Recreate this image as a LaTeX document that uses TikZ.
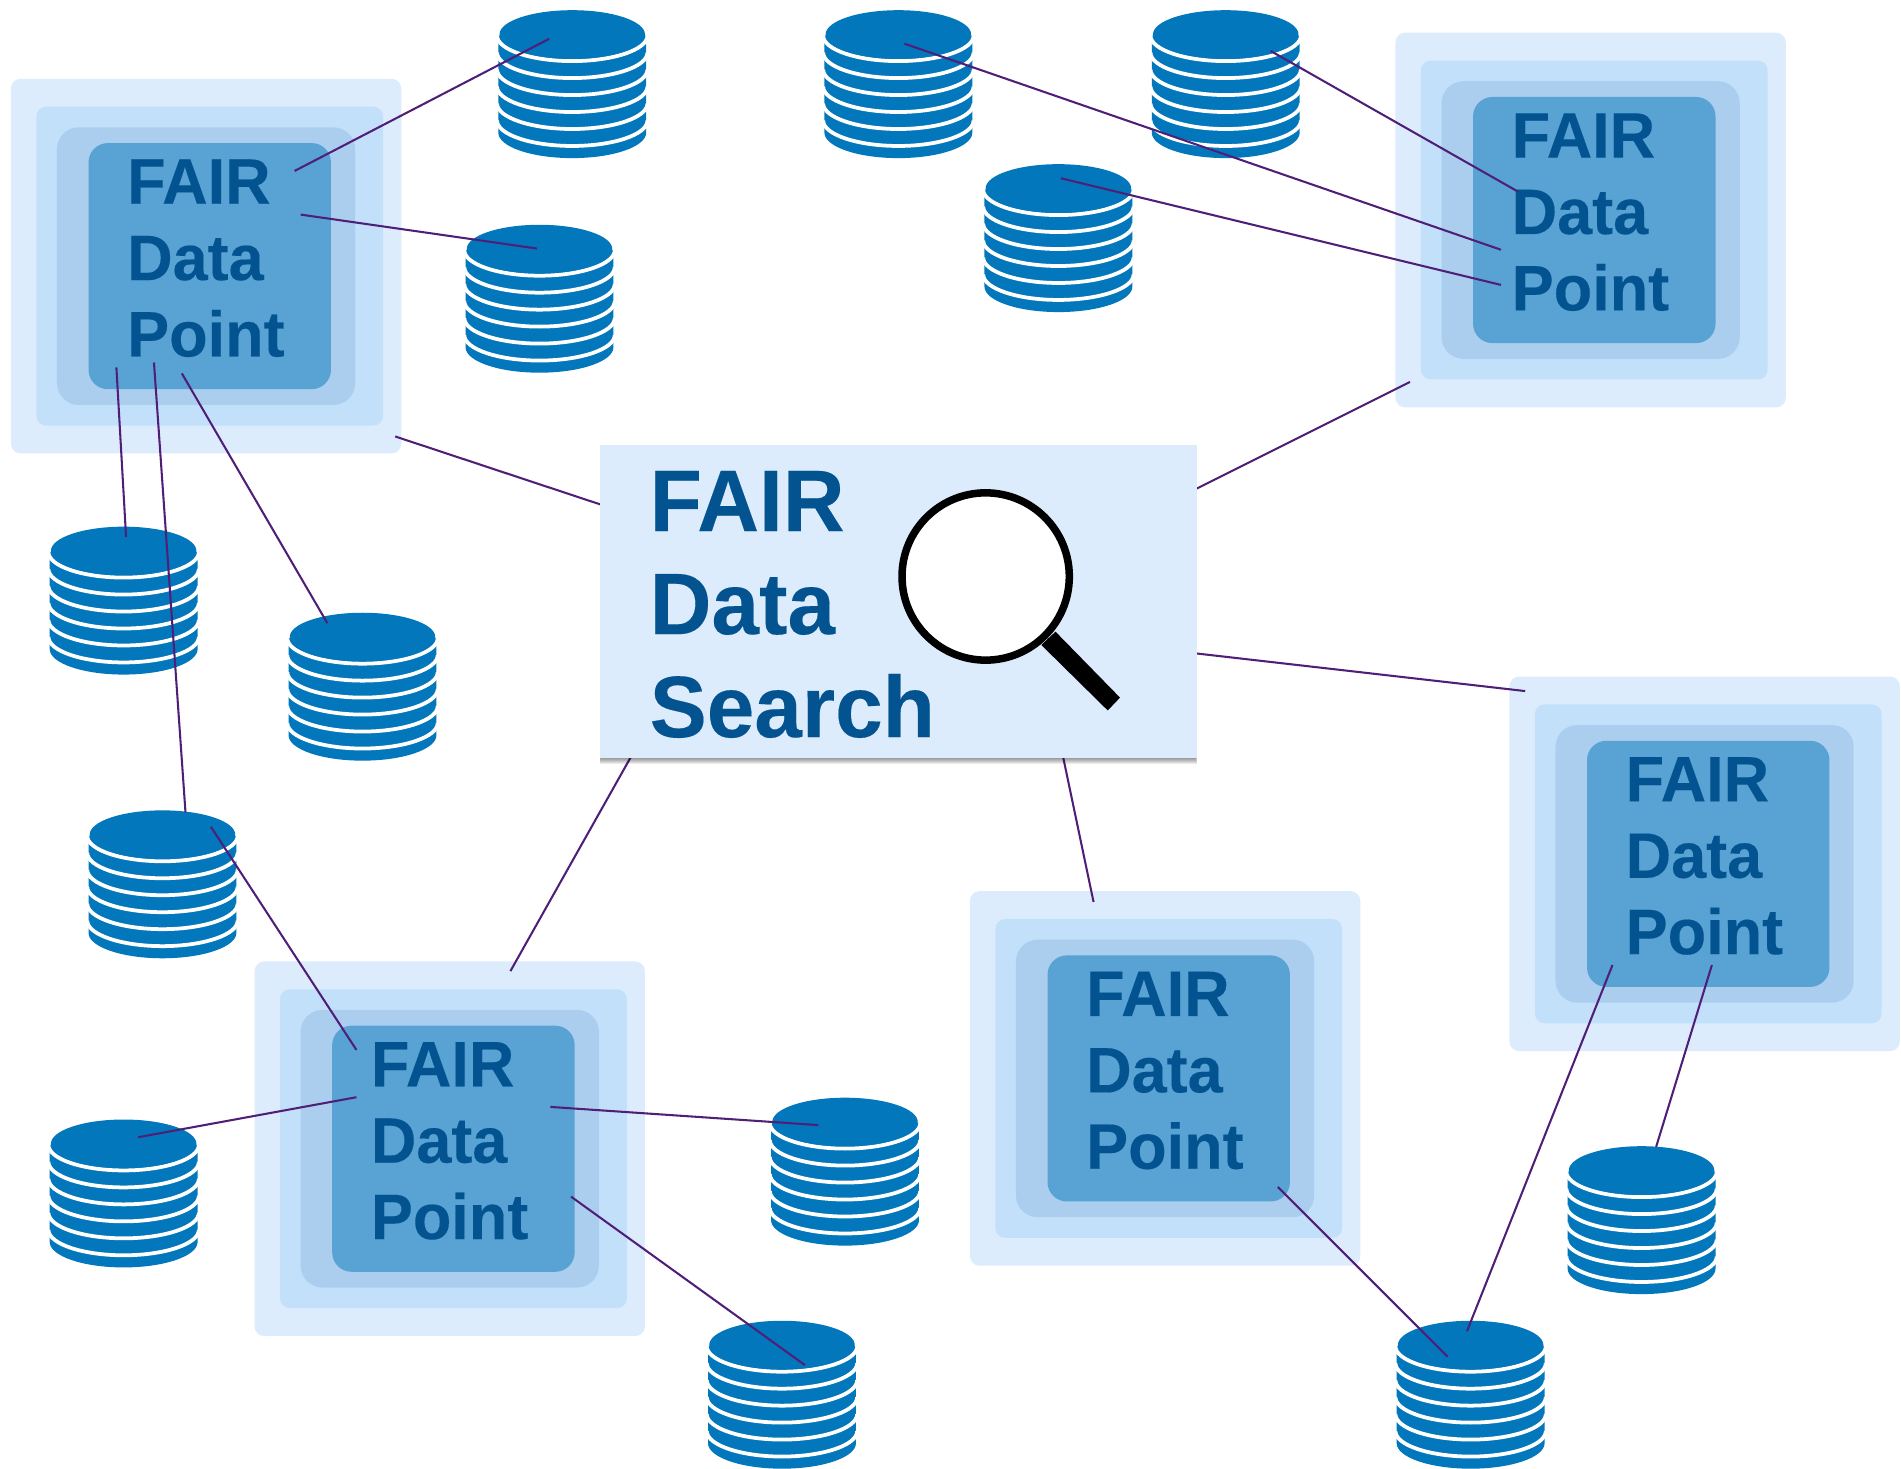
\documentclass[tikz,border=0pt]{standalone}
\usepackage{fontspec}
\setmainfont{Liberation Sans}[BoldFeatures={FakeStretch=0.98,FakeBold=0.2}]
\definecolor{lay1}{HTML}{DDECFC}
\definecolor{lay2}{HTML}{C3E0FB}
\definecolor{lay3}{HTML}{ABCEEE}
\definecolor{lay4}{HTML}{58A2D4}
\definecolor{txtblue}{HTML}{02538F}
\definecolor{cylblue}{HTML}{0277BB}
\definecolor{linkpurple}{HTML}{4F1F78}
\tikzset{
  dptext/.style={anchor=base west,inner sep=0pt,text=txtblue,font=\fontsize{26.5pt}{26.5pt}\selectfont\bfseries},
  fstext/.style={anchor=base west,inner sep=0pt,text=txtblue,font=\fontsize{36pt}{36pt}\selectfont\bfseries},
  link/.style={draw=linkpurple,line width=0.85pt},
}
\newcommand{\cylinderat}[2]{%
  \begin{scope}[shift={(#1,#2+0.4)}]
    \fill[cylblue] (-61,21) -- (-61,101)
      .. controls (-61,112.6) and (-33.7,122) .. (0,122)
      .. controls (33.7,122) and (61,112.6) .. (61,101) -- (61,21) -- cycle;
    \foreach \k in {0,...,5}{
      \draw[white,line width=1.55pt] (-62,{21+14*\k})
        .. controls (-62,{32.6+14*\k}) and (-33.7,{42+14*\k}) .. (0,{42+14*\k})
        .. controls (33.7,{42+14*\k}) and (62,{32.6+14*\k}) .. (62,{21+14*\k});
    }
    \fill[cylblue] (0,20) ellipse [x radius=30pt,y radius=10pt];
  \end{scope}}
\newcommand{\datapoint}[3]{%
  \begin{scope}[shift={(#2,#3)}]
    \fill[lay1,rounded corners=4pt] (9,65) rectangle (331,374);
    \fill[lay2,rounded corners=4pt] (30,88) rectangle (316,351);
    \fill[lay3,rounded corners=9pt] (47,105) rectangle (293,334);
    \fill[lay4,rounded corners=8pt] (73,118) rectangle (273,321);
    \node[dptext] (#1a) at (104.5,168) {FAIR};
    \node[dptext] (#1b) at (104.5,231) {Data};
    \node[dptext] (#1c) at (104.5,294) {Point};
  \end{scope}}
\begin{document}
\begin{tikzpicture}[x=0.5pt,y=-0.5pt]
\useasboundingbox (0,0) rectangle (1568,1211);
% data points
\datapoint{dpa}{0}{0}
\datapoint{dpb}{1142}{-38}
\datapoint{dpc}{1236}{493}
\datapoint{dpd}{791}{670}
\datapoint{dpe}{201}{728}
% cylinders
\cylinderat{472}{8}
\cylinderat{741}{8}
\cylinderat{1011}{8}
\cylinderat{873}{135}
\cylinderat{445}{185}
\cylinderat{102}{434}
\cylinderat{299}{505}
\cylinderat{134}{668}
\cylinderat{102}{923}
\cylinderat{697}{905}
\cylinderat{645}{1089}
\cylinderat{1354}{945}
\cylinderat{1213}{1089}
% end points
\foreach \n/\x/\y in {
 a1/243/141, a2/453/32, b1/248/177, b2/443/205, c1/96/303, c2/104/443,
 d1/127/299, d2/153/670, e1/150/308, e2/270/514, f1/326/360, f2/495/416,
 g1/1048/42, g2/1252/158, h1/746/36, h2/1238/206, i1/875/147, i2/1238/235,
 j1/1163/315, j2/987/403, k1/987/539, k2/1258/570, l1/1330/796, l2/1210/1098,
 m1/1412/796, m2/1366/946, n1/877/625, n2/902/744, o1/1054/979, o2/1194/1119,
 p1/520/625, p2/421/801, q1/174/682, q2/294/866, r1/114/938, r2/294/905,
 s1/454/913, s2/675/928, t1/471/987, t2/664/1126}{
  \coordinate (\n) at (\x,\y);
}
\foreach \n in {a,b,c,d,e,f,g,h,i,j,k,l,m,n,o,p,q,r,s,t}{
  \draw[link] (\n1) -- (\n2);
}
% search box with a soft shadow
\foreach \s in {1,...,6}{
  \fill[black,opacity=.08] ({495.5-\s*0.1},{372}) rectangle ({986.5+\s*0.1},{625+\s*0.8});
}
\node[fill=lay1,inner sep=0pt,minimum width=246pt,minimum height=129pt] (search) at (741,496) {};
\node[fstext] (fsa) at (535.5,438) {FAIR};
\node[fstext] (fsb) at (535.5,523) {Data};
\node[fstext] (fsc) at (535.5,608) {Search};
\fill[black] (870.6,521) -- (923.8,575.4) -- (913.7,586) -- (858.9,532) -- cycle;
\draw[black,fill=white,line width=3.1pt] (813,475.5) circle [radius=34.5pt];
\end{tikzpicture}
\end{document}
